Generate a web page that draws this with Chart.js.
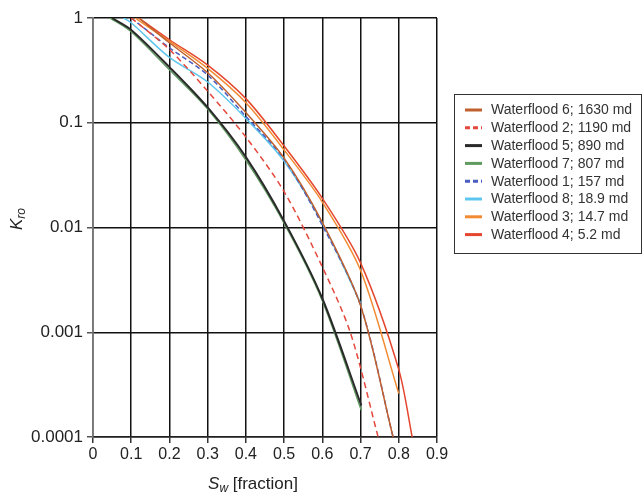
<!DOCTYPE html>
<html>
<head>
<meta charset="utf-8">
<script src="https://cdn.jsdelivr.net/npm/chart.js@4.4.1/dist/chart.umd.min.js"></script>
<style>
html,body{margin:0;padding:0;background:#fff;}
#wrap{position:relative;width:643px;height:498px;}
</style>
</head>
<body>
<div id="wrap"><canvas id="c" width="643" height="498"></canvas></div>
<script>
// ---- data ----
const seriesNames = ["Waterflood 6; 1630 md","Waterflood 2; 1190 md","Waterflood 5; 890 md","Waterflood 7; 807 md","Waterflood 1; 157 md","Waterflood 8; 18.9 md","Waterflood 3; 14.7 md","Waterflood 4; 5.2 md"];
const xTickValues = [0,0.1,0.2,0.3,0.4,0.5,0.6,0.7,0.8,0.9];
const yTickValues = [0.0001,0.001,0.01,0.1,1];

const sw6  = [0.12,0.2,0.3,0.4,0.5,0.6,0.7,0.785];
const kro6 = [1,0.58,0.3,0.125,0.046,0.0112,0.0018,0.0001];
const sw2  = [0.1,0.2,0.3,0.4,0.5,0.6,0.673,0.746];
const kro2 = [1,0.5,0.2,0.073,0.022,0.0042,0.001,0.0001];
const sw5  = [0.05,0.1,0.2,0.3,0.4,0.5,0.6,0.702];
const kro5 = [1,0.77,0.34,0.14,0.047,0.0115,0.0021,0.0002];
const sw7  = [0.045,0.1,0.2,0.3,0.4,0.5,0.6,0.702];
const kro7 = [1,0.74,0.32,0.135,0.044,0.011,0.002,0.00018];
const sw1  = [0.1,0.2,0.3,0.4,0.5,0.6,0.7,0.785];
const kro1 = [1,0.52,0.285,0.115,0.045,0.0105,0.0018,0.0001];
const sw8  = [0.08,0.1,0.2,0.3,0.4,0.5,0.6,0.7];
const kro8 = [1,0.9,0.42,0.245,0.11,0.043,0.011,0.0019];
const sw3  = [0.11,0.2,0.3,0.4,0.5,0.6,0.7,0.8];
const kro3 = [1,0.6,0.33,0.155,0.055,0.0175,0.0039,0.00026];
const sw4  = [0.12,0.2,0.3,0.4,0.5,0.6,0.7,0.8,0.835];
const kro4 = [1,0.62,0.355,0.17,0.06,0.019,0.0046,0.00044,0.0001];

const xs = [sw6,sw2,sw5,sw7,sw1,sw8,sw3,sw4];
const ys = [kro6,kro2,kro5,kro7,kro1,kro8,kro3,kro4];
const colors = ["#c0602e","#e4483c","#2a2a2a","#5f9a5f","#4a5cc0","#5ec6ee","#f28a32","#e4462e"];
const dashes = [[],[6,4],[],[],[5,3],[],[],[]];
const widths = [1.5,1.5,2,1.5,1.5,1.5,1.5,1.5];

const datasets = seriesNames.map((n,i)=>({
  label:n,
  data: xs[i].map((x,j)=>({x:x,y:ys[i][j]})),
  borderColor: colors[i],
  backgroundColor: colors[i],
  borderDash: dashes[i],
  borderWidth: widths[i],
  pointRadius:0,
  fill:false,
  tension:0.3
}));

const FONT = "'Liberation Sans', Arial, sans-serif";

const decor = {
  id:'decor',
  afterDraw(chart){
    const ctx = chart.ctx;
    ctx.save();
    // legend box
    ctx.strokeStyle = "#333";
    ctx.lineWidth = 1;
    ctx.strokeRect(454.5, 94.5, 187, 159);
    ctx.font = "14px " + FONT;
    ctx.textBaseline = "middle";
    chart.data.datasets.forEach((d,i)=>{
      const y = 110 + i*17.8;
      ctx.beginPath();
      ctx.strokeStyle = d.borderColor;
      ctx.lineWidth = 3;
      ctx.setLineDash(d.borderDash.length ? [5,3] : []);
      ctx.moveTo(465, y); ctx.lineTo(482, y);
      ctx.stroke();
      ctx.setLineDash([]);
      ctx.fillStyle = "#333";
      ctx.fillText(d.label, 491, y+0.5);
    });
    // x axis title: S_w [fraction]
    ctx.fillStyle = "#222";
    ctx.textBaseline = "alphabetic";
    const big = "italic 17px " + FONT, small = "italic 12px " + FONT, norm = "17px " + FONT;
    ctx.font = big; const wS = ctx.measureText("S").width;
    ctx.font = small; const wW = ctx.measureText("w").width;
    ctx.font = norm; const wT = ctx.measureText(" [fraction]").width;
    let x0 = 253 - (wS+wW+wT)/2, yb = 489;
    ctx.font = big; ctx.fillText("S", x0, yb);
    ctx.font = small; ctx.fillText("w", x0+wS, yb+3);
    ctx.font = norm; ctx.fillText(" [fraction]", x0+wS+wW, yb);
    // y axis title: K_ro
    ctx.translate(22, 219);
    ctx.rotate(-Math.PI/2);
    ctx.font = big; const wK = ctx.measureText("K").width;
    ctx.font = small; const wR = ctx.measureText("ro").width;
    let k0 = -(wK+wR)/2;
    ctx.font = big; ctx.fillText("K", k0, 0);
    ctx.font = small; ctx.fillText("ro", k0+wK, 3);
    ctx.restore();
  }
};

new Chart(document.getElementById('c'), {
  type:'line',
  data:{datasets},
  options:{
    responsive:false,
    animation:false,
    layout:{padding:{left:0,top:18,right:206,bottom:0}},
    plugins:{legend:{display:false},tooltip:{enabled:false}},
    scales:{
      x:{
        type:'linear', min:0, max:0.9,
        afterBuildTicks(s){ s.ticks = xTickValues.map(v=>({value:v})); },
        afterFit(s){ s.height = 61; },
        ticks:{ color:"#222", font:{family:FONT,size:16}, padding:2,
          callback:(v)=> String(Math.round(v*10)/10) },
        grid:{ color:"#111", lineWidth:1.5, tickLength:6, tickColor:"#333" },
        border:{ color:"#222", width:1.5 }
      },
      y:{
        type:'logarithmic', min:0.0001, max:1,
        afterBuildTicks(s){ s.ticks = yTickValues.map(v=>({value:v})); },
        afterFit(s){ s.width = 93; },
        ticks:{ color:"#222", font:{family:FONT,size:17}, padding:4,
          callback:(v)=> ({0.0001:"0.0001",0.001:"0.001",0.01:"0.01",0.1:"0.1",1:"1"})[v] },
        grid:{ color:"#111", lineWidth:1.5, tickLength:6, tickColor:"#555" },
        border:{ color:"#777", width:1.5 }
      }
    }
  },
  plugins:[decor]
});
</script>
</body>
</html>
